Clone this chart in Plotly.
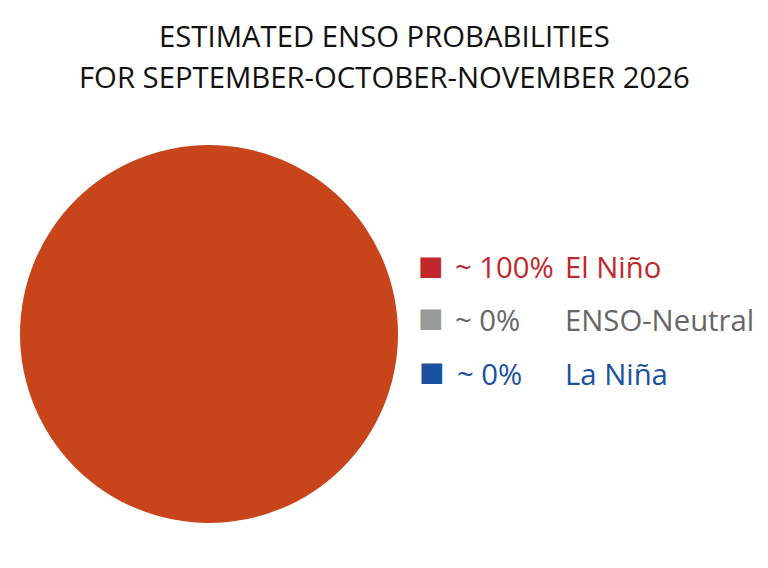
import plotly.graph_objects as go

# ENSO outlook, share of each category
categories = ["El Niño", "ENSO-Neutral", "La Niña"]
values = [100, 0, 0]
percent_labels = ["~ 100%", "~ 0%", "~ 0%"]
slice_colors = ["#C8451B", "#999999", "#1B51A1"]
legend_colors = ["#C1272D", "#999999", "#1B51A1"]
text_colors = ["#C1272D", "#666666", "#1B51A1"]
title_lines = ["ESTIMATED ENSO PROBABILITIES", "FOR SEPTEMBER-OCTOBER-NOVEMBER 2026"]

font_name = "Open Sans"

fig = go.Figure()
fig.add_trace(go.Pie(
    labels=categories,
    values=values,
    marker=dict(colors=slice_colors, line=dict(width=0)),
    textinfo="none",
    hoverinfo="label+percent",
    sort=False,
    showlegend=False,
    domain=dict(x=[20 / 768, 398 / 768], y=[1 - 523 / 568, 1 - 145 / 568]),
))

# Title lines
for text, y in zip(title_lines, [36, 77]):
    fig.add_annotation(
        text=text, x=384.5 / 768, y=1 - y / 568, xref="paper", yref="paper",
        xanchor="center", yanchor="middle", showarrow=False,
        font=dict(family=font_name, size=29.3, color="#111111"),
    )

# Hand placed legend, like the reference
rows = [267, 320, 374]
square_y = [265, 317.5, 371]
square_x = [430.5, 430.5, 431.5]
pct_x = [453, 453, 455]
for i, y in enumerate(rows):
    fig.add_annotation(
        text="■", x=square_x[i] / 768, y=1 - square_y[i] / 568, xref="paper", yref="paper",
        xanchor="center", yanchor="middle", showarrow=False,
        font=dict(family="DejaVu Sans", size=27, color=legend_colors[i]),
    )
    fig.add_annotation(
        text=percent_labels[i], x=pct_x[i] / 768, y=1 - y / 568, xref="paper", yref="paper",
        xanchor="left", yanchor="middle", showarrow=False,
        font=dict(family=font_name, size=29.3, color=text_colors[i]),
    )
    fig.add_annotation(
        text=categories[i], x=563 / 768, y=1 - y / 568, xref="paper", yref="paper",
        xanchor="left", yanchor="middle", showarrow=False,
        font=dict(family=font_name, size=29.3, color=text_colors[i]),
    )

fig.update_layout(
    width=768,
    height=568,
    margin=dict(l=0, r=0, t=0, b=0),
    paper_bgcolor="white",
    plot_bgcolor="white",
)
# drop the browser's default page margin so the figure sits at the window corner
fig.write_html(
    "out.html",
    config={"displayModeBar": False},
    post_script="document.body.style.margin = '0';",
)
